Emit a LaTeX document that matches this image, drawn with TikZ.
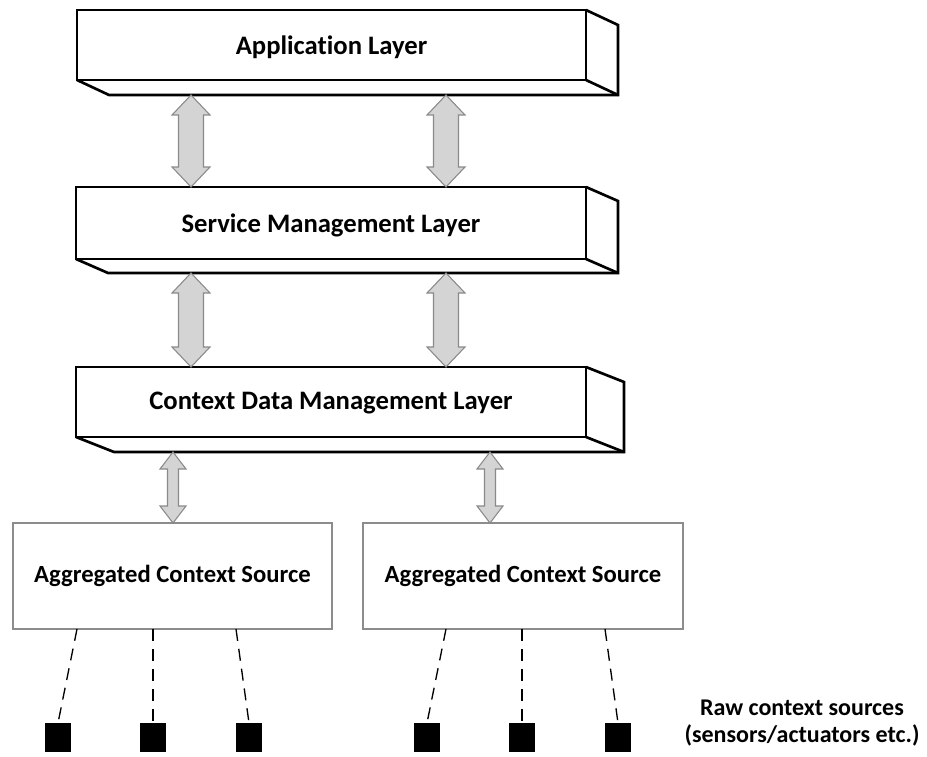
\documentclass[tikz,border=0pt]{standalone}
\usepackage{fontspec}
\setmainfont{Carlito}[Ligatures=NoCommon]
\usetikzlibrary{calc}

\definecolor{arrowfill}{HTML}{D4D4D4}
\definecolor{arrowline}{HTML}{8A8A8A}
\definecolor{boxline}{HTML}{8C8C8C}

\tikzset{
  layerface/.style={draw=black, line width=2pt, fill=white, inner sep=0pt, outer sep=0pt,
    font=\fontsize{20}{24}\selectfont\bfseries},
  layertext/.style={font=\fontsize{20}{24}\selectfont\bfseries, inner sep=0pt},
  layeredge/.style={draw=black, line width=2pt, line join=miter},
  sourcebox/.style={draw=boxline, line width=0.8pt, inner sep=0pt, outer sep=0pt,
    font=\fontsize{18.5}{22}\selectfont\bfseries},
  sensor/.style={fill=black, inner sep=0pt, outer sep=0pt, minimum width=19.5pt, minimum height=21.75pt},
  link/.style={dash pattern=on 9pt off 6pt, line width=1pt},
  barrow/.style={fill=arrowfill, draw=arrowline, line width=0.8pt, line join=miter},
  note/.style={align=center, font=\fontsize{18}{20.25}\selectfont\bfseries},
}

% slab: underside and right side of a layer, offset (#2,#3) from its front face
\newcommand\slab[3]{%
  \draw[layeredge] (#1.south west) -- ++(#2,#3) -- ($(#1.south east)+(#2,#3)$)
    -- ($(#1.north east)+(#2,#3)$) -- (#1.north east);
  \draw[layeredge] (#1.south east) -- ++(#2,#3);
  \coordinate (#1 base) at ($(#1.south)+(#2,#3)$);}

% dualarrow: block arrow with heads at both ends
% #1 upper tip, #2 lower tip, #3 half shaft width, #4 half head width, #5 head length
\newcommand\dualarrow[5]{%
  \draw[barrow] (#1) -- ($(#1)+(#4,#5)$) -- ($(#1)+(#3,#5)$) -- ($(#2)+(#3,-#5)$)
    -- ($(#2)+(#4,-#5)$) -- (#2) -- ($(#2)+(-#4,-#5)$) -- ($(#2)+(-#3,-#5)$)
    -- ($(#1)+(-#3,#5)$) -- ($(#1)+(-#4,#5)$) -- cycle;}

\begin{document}
\begin{tikzpicture}[x=0.75pt, y=-0.75pt]
\useasboundingbox (0,0) rectangle (927,756);

% layers
\node[layerface, minimum width=381.75pt, minimum height=52.5pt] (app) at (331.5,45) {};
\node[layertext] (apptext) at ($(app.center)+(0,2)$) {Application Layer};
\slab{app}{32}{15}
\node[layerface, minimum width=382.5pt, minimum height=54pt] (svc) at (331,223) {};
\node[layertext] (svctext) at ($(svc.center)+(0,2)$) {Service Management Layer};
\slab{svc}{32}{14}
\node[layerface, minimum width=382.5pt, minimum height=52.5pt] (ctx) at (331,402) {};
\node[layertext] (ctxtext) at ($(ctx.center)+(0,1)$) {Context Data Management Layer};
\slab{ctx}{38}{15}

% aggregated sources
\node[sourcebox, minimum width=239.25pt, minimum height=79.5pt] (agg1) at (172.5,576) {Aggregated Context Source};
\node[sourcebox, minimum width=240pt, minimum height=79.5pt] (agg2) at (523,576) {Aggregated Context Source};

% arrows between layers
\dualarrow{191,0 |- app base}{191,0 |- svc.north}{12.5}{19}{20}
\dualarrow{446,0 |- app base}{446,0 |- svc.north}{12.5}{19}{20}
\dualarrow{191,0 |- svc base}{191,0 |- ctx.north}{12.5}{19}{20}
\dualarrow{446,0 |- svc base}{446,0 |- ctx.north}{12.5}{19}{20}
\dualarrow{173,0 |- ctx base}{173,0 |- agg1.north}{5.5}{13}{17}
\dualarrow{490,0 |- ctx base}{490,0 |- agg2.north}{5.5}{13}{17}

% raw sources
\node[sensor] (s1) at (58,737.5) {};
\node[sensor] (s2) at (153,737.5) {};
\node[sensor] (s3) at (249,737.5) {};
\node[sensor] (s4) at (427,737.5) {};
\node[sensor] (s5) at (522,737.5) {};
\node[sensor] (s6) at (618,737.5) {};

\draw[link] (77,0 |- agg1.south) -- (s1.north);
\draw[link] (153,0 |- agg1.south) -- (s2.north);
\draw[link] (236,0 |- agg1.south) -- (s3.north);
\draw[link] (446,0 |- agg2.south) -- (s4.north);
\draw[link] (522,0 |- agg2.south) -- (s5.north);
\draw[link] (605,0 |- agg2.south) -- (s6.north);

\node[note] (raw) at (802,723) {Raw context sources\\(sensors/actuators etc.)};
\end{tikzpicture}
\end{document}
